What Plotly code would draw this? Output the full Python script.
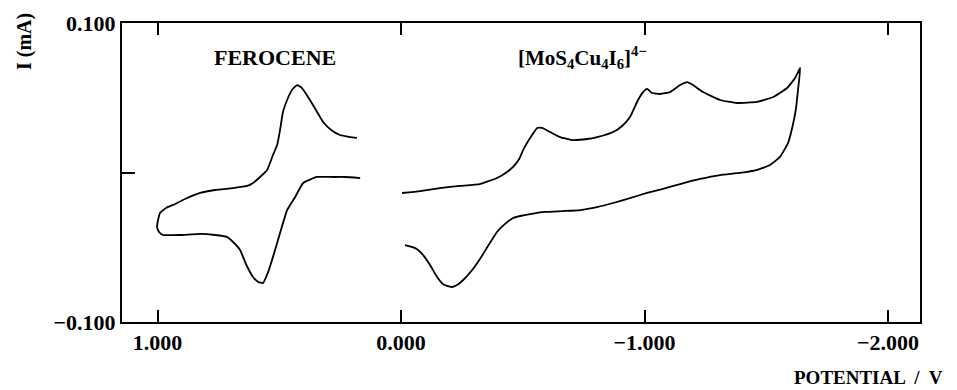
import plotly.graph_objects as go

# Ferrocene CV (potential V, current mA)
fc_potential = [0.168, 0.230, 0.279, 0.345, 0.402, 0.435, 0.468, 0.497, 0.526, 0.546, 0.567,
                0.587, 0.608, 0.637, 0.661, 0.690, 0.715, 0.764, 0.825, 0.908, 0.977, 0.994,
                1.002, 0.998, 0.990, 0.965, 0.936, 0.887, 0.825, 0.764, 0.690, 0.632, 0.608,
                0.579, 0.550, 0.526, 0.509, 0.497, 0.485, 0.468, 0.448, 0.427, 0.407, 0.374,
                0.345, 0.320, 0.287, 0.251, 0.209, 0.181]
fc_current = [-0.0037, -0.0030, -0.0030, -0.0030, -0.0070, -0.0164, -0.0251, -0.0405, -0.0565,
              -0.0666, -0.0739, -0.0732, -0.0699, -0.0612, -0.0518, -0.0465, -0.0431, -0.0418,
              -0.0411, -0.0418, -0.0418, -0.0398, -0.0365, -0.0318, -0.0271, -0.0237, -0.0217,
              -0.0177, -0.0137, -0.0117, -0.0104, -0.0090, -0.0070, -0.0030, 0.0017, 0.0117,
              0.0184, 0.0284, 0.0405, 0.0485, 0.0552, 0.0585, 0.0565, 0.0485, 0.0405, 0.0338,
              0.0284, 0.0251, 0.0237, 0.0231]

# [MoS4Cu4I6]4- CV
mo_potential = [-0.004, -0.078, -0.160, -0.242, -0.324, -0.394, -0.435, -0.460, -0.485, -0.501,
                -0.522, -0.538, -0.559, -0.579, -0.612, -0.653, -0.702, -0.764, -0.805, -0.871,
                -0.908, -0.940, -0.973, -0.994, -1.010, -1.031, -1.064, -1.105, -1.146, -1.175,
                -1.199, -1.240, -1.310, -1.380, -1.462, -1.528, -1.585, -1.618, -1.639, -1.630,
                -1.622, -1.606, -1.589, -1.556, -1.515, -1.462, -1.392, -1.310, -1.228, -1.146,
                -1.076, -1.010, -0.940, -0.871, -0.805, -0.735, -0.665, -0.591, -0.530, -0.489,
                -0.460, -0.427, -0.394, -0.357, -0.324, -0.292, -0.255, -0.230, -0.209, -0.189,
                -0.172, -0.148, -0.119, -0.094, -0.070, -0.045, -0.016]
mo_current = [-0.0137, -0.0124, -0.0104, -0.0090, -0.0077, -0.0037, 0.0003, 0.0037, 0.0090,
              0.0150, 0.0211, 0.0251, 0.0298, 0.0298, 0.0271, 0.0237, 0.0217, 0.0224, 0.0237,
              0.0271, 0.0311, 0.0371, 0.0485, 0.0538, 0.0559, 0.0532, 0.0525, 0.0538, 0.0585,
              0.0605, 0.0585, 0.0538, 0.0485, 0.0465, 0.0472, 0.0505, 0.0565, 0.0632, 0.0699,
              0.0552, 0.0431, 0.0298, 0.0197, 0.0104, 0.0050, 0.0017, -0.0003, -0.0017, -0.0043,
              -0.0077, -0.0110, -0.0137, -0.0171, -0.0204, -0.0231, -0.0251, -0.0258, -0.0264,
              -0.0278, -0.0291, -0.0304, -0.0344, -0.0398, -0.0492, -0.0579, -0.0652, -0.0719,
              -0.0753, -0.0766, -0.0759, -0.0746, -0.0699, -0.0619, -0.0559, -0.0518, -0.0498,
              -0.0485]

x_tickvals = [1.0, 0.0, -1.0, -2.0]
x_ticktext = ["1.000", "0.000", "\u22121.000", "\u22122.000"]
y_tickvals = [-0.1, 0.0, 0.1]
y_ticktext = ["\u22120.100", "", "0.100"]

SERIF = "Liberation Serif"

# page has an 8px body margin; plot area target in window pixels: x 122..920, y 23..322
OFF = 8
W, H = 957, 390
L, T = 122 - OFF, 23 - OFF
R, B = W - (920 - OFF), H - (322 - OFF)
PW, PH = W - L - R, H - T - B


def px(x, y):
    """window pixel -> paper coords"""
    return (x - OFF - L) / PW, 1 - (y - OFF - T) / PH


fig = go.Figure()
for xs, ys in [(fc_potential, fc_current), (mo_potential, mo_current)]:
    fig.add_trace(go.Scatter(x=xs, y=ys, mode="lines",
                             line=dict(color="black", width=1.8, shape="spline", smoothing=0.4),
                             showlegend=False, hoverinfo="skip"))

ax_common = dict(showline=True, linecolor="black", linewidth=2, showgrid=False,
                 zeroline=False, ticks="inside", tickwidth=2, tickcolor="black",
                 tickfont=dict(family=SERIF, size=22, color="black", weight="bold"))

fig.update_layout(
    width=W, height=H,
    margin=dict(l=L, r=R, t=T, b=B, autoexpand=False),
    paper_bgcolor="white", plot_bgcolor="white",
    font=dict(family=SERIF, color="black"),
    xaxis=dict(range=[1.146, -2.131], tickvals=x_tickvals, ticktext=x_ticktext,
               ticklen=12, mirror="ticks", **ax_common),
    yaxis=dict(range=[-0.1, 0.1], tickvals=y_tickvals, ticktext=y_ticktext,
               ticklen=13, mirror=True, **ax_common),
)

anns = []
for text, (x, y), size, xanchor, angle in [
    ("FEROCENE", (275, 57), 22, "center", 0),
    ("[MoS<sub>4</sub>Cu<sub>4</sub>I<sub>6</sub>]<sup>4\u2212</sup>", (582, 57), 21, "center", 0),
    ("POTENTIAL  /  V", (945, 377), 19, "right", 0),
    ("I (mA)", (25, 42), 20, "center", -90),
]:
    px_, py_ = px(x, y)
    anns.append(dict(text=text, x=px_, y=py_, xref="paper", yref="paper", showarrow=False,
                     xanchor=xanchor, yanchor="middle", textangle=angle,
                     font=dict(family=SERIF, size=size, color="black", weight="bold")))
fig.update_layout(annotations=anns)

fig.write_html("out.html")
